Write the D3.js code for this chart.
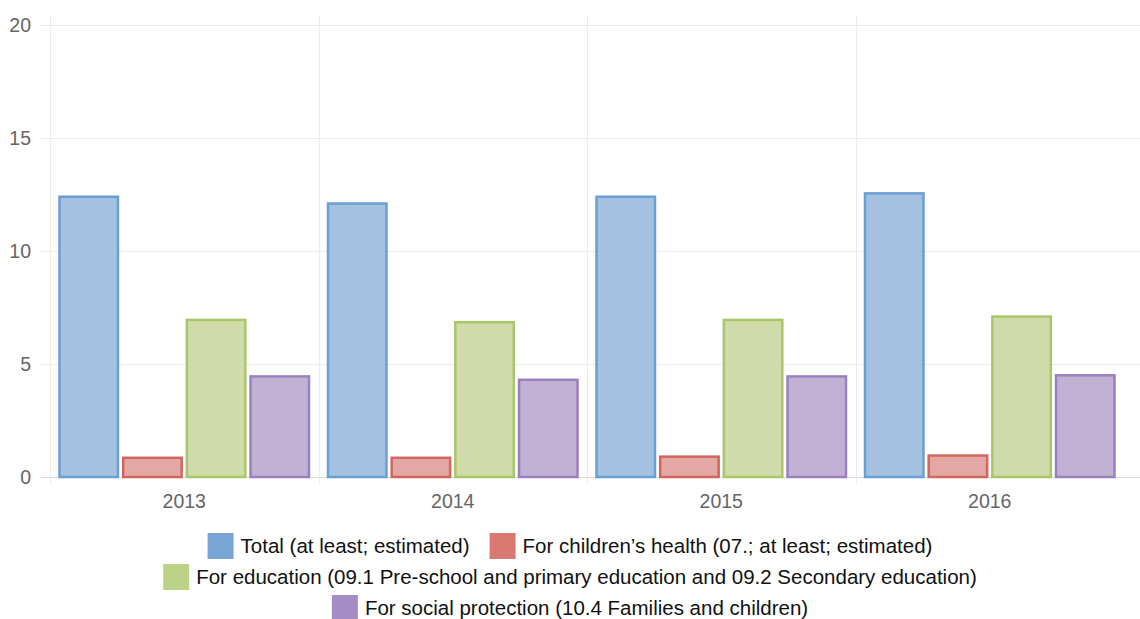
<!DOCTYPE html>
<html>
<head>
<meta charset="utf-8">
<script src="https://cdn.jsdelivr.net/npm/d3@7"></script>
<style>
  html, body { margin: 0; padding: 0; background: #fff; }
  svg { display: block; font-family: "Liberation Sans", Arial, sans-serif; }
</style>
</head>
<body>
<svg id="chart" width="1140" height="619"></svg>
<script>
// Public spending on children, by year and purpose
const years = ["2013", "2014", "2015", "2016"];
const seriesNames = [
  "Total (at least; estimated)",
  "For children\u2019s health (07.; at least; estimated)",
  "For education (09.1 Pre-school and primary education and 09.2 Secondary education)",
  "For social protection (10.4 Families and children)"
];
const totalValues     = [12.4, 12.1, 12.4, 12.55];
const healthValues    = [0.85, 0.85, 0.9, 0.95];
const educationValues = [6.95, 6.85, 6.95, 7.1];
const socialValues    = [4.45, 4.3, 4.45, 4.5];
const yTicks = [0, 5, 10, 15, 20];

const fills   = ["#a4c2e0", "#e3a8a3", "#cfdcaa", "#c1b2d5"];
const strokes = ["#6a9fd3", "#d2665e", "#a9c66b", "#9b80be"];
const swatch  = ["#77a6d6", "#d87a72", "#bcd286", "#a48cc4"];

const seriesValues = [totalValues, healthValues, educationValues, socialValues];

const svg = d3.select("#chart");
const plot = { left: 50, right: 1124, top: 25, bottom: 477 };

const y = d3.scaleLinear().domain([0, 20]).range([plot.bottom, plot.top]);
const x0 = d3.scaleBand().domain(years).range([plot.left, plot.right]).padding(0);
const inner = 8.5;
const x1 = d3.scaleBand().domain(d3.range(seriesNames.length))
  .range([inner, x0.bandwidth() - inner]).paddingInner(0.05).paddingOuter(0);

const axisFont = "\"Liberation Sans\", Arial, sans-serif";

// horizontal grid lines
svg.append("g").selectAll("line").data(yTicks).join("line")
  .attr("x1", 41).attr("x2", 1140)
  .attr("y1", d => Math.round(y(d)) + 0.5).attr("y2", d => Math.round(y(d)) + 0.5)
  .attr("stroke", d => d === 0 ? "#dcdcdc" : "#ececec").attr("stroke-width", 1);

// vertical category grid lines
svg.append("g").selectAll("line").data(years).join("line")
  .attr("x1", d => Math.round(x0(d)) + 0.5).attr("x2", d => Math.round(x0(d)) + 0.5)
  .attr("y1", 15).attr("y2", plot.bottom + 7)
  .attr("stroke", "#ececec").attr("stroke-width", 1);

// y axis labels
const yAxis = d3.axisLeft(y).tickValues(yTicks).tickSize(0).tickPadding(0);
const yg = svg.append("g").attr("transform", `translate(31,0)`).call(yAxis);
yg.select(".domain").remove();
yg.selectAll("text").attr("fill", "#666").style("font-size", "19.5px")
  .style("font-family", axisFont);

// x axis labels
const xAxis = d3.axisBottom(x0).tickSize(0).tickPadding(0);
const xg = svg.append("g").attr("transform", `translate(0,${plot.bottom + 17})`).call(xAxis);
xg.select(".domain").remove();
xg.selectAll("text").attr("fill", "#666").style("font-size", "19.5px")
  .style("font-family", axisFont);

// bars
const groups = svg.append("g").selectAll("g").data(years).join("g")
  .attr("transform", d => `translate(${x0(d)},0)`);
groups.selectAll("rect")
  .data((d, i) => seriesValues.map((vals, s) => ({ s, v: vals[i] })))
  .join("rect")
  .attr("x", d => x1(d.s) + 1)
  .attr("width", x1.bandwidth() - 2)
  .attr("y", d => y(d.v))
  .attr("height", d => y(0) - y(d.v))
  .attr("fill", d => fills[d.s])
  .attr("stroke", d => strokes[d.s])
  .attr("stroke-width", 2.5);

// legend
const legendRows = [[0, 1], [2], [3]];
const legend = svg.append("g");
const sq = 26, gapSq = 7, gapItem = 20;
legendRows.forEach((row, r) => {
  const cy = 546 + r * 31;
  const rowG = legend.append("g");
  let cx = 0;
  row.forEach((s, k) => {
    if (k > 0) cx += gapItem;
    rowG.append("rect").attr("x", cx).attr("y", cy - sq / 2).attr("width", sq).attr("height", sq)
      .attr("fill", swatch[s]);
    cx += sq + gapSq;
    const t = rowG.append("text").attr("x", cx).attr("y", cy).attr("dy", "0.35em")
      .style("font-size", "20.5px").attr("fill", "#111").text(seriesNames[s]);
    cx += t.node().getComputedTextLength();
  });
  rowG.attr("transform", `translate(${570 - cx / 2},0)`);
});
</script>
</body>
</html>
